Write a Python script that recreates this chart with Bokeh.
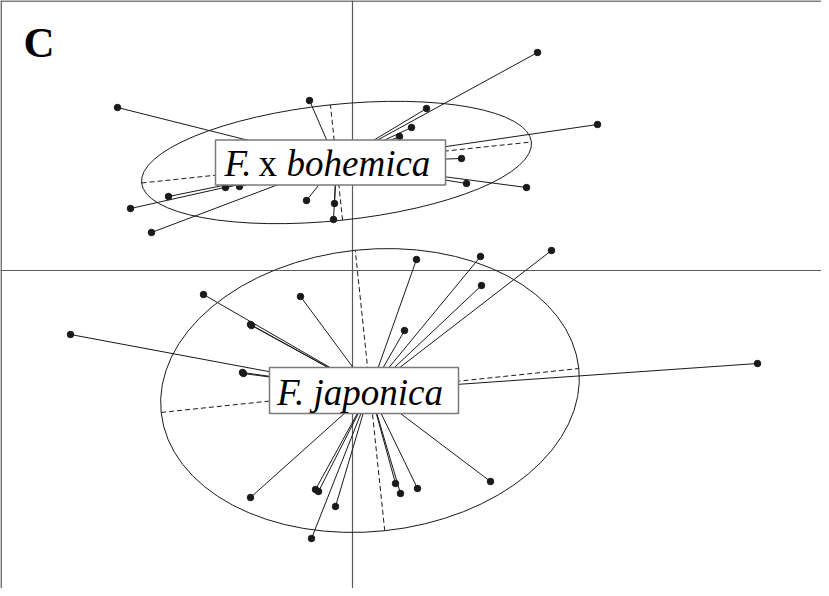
import math
from bokeh.plotting import figure
from bokeh.models import Range1d, Span
from bokeh.core.properties import value
from bokeh.embed import file_html
from bokeh.resources import INLINE

# ---- data (score units) ----
class_names = ["F. x bohemica", "F. japonica"]
center_x = [-0.16, 0.175]
center_y = [1.08, -1.20]
ell_a = [1.96, 2.10]          # semi-major axis
ell_b = [0.58, 1.41]          # semi-minor axis
ell_angle_deg = [6.0, 6.0]

bohemica_x = [-2.35, -0.43, 1.85, 2.45, 0.74, 0.59, 0.47, 1.09, 1.14, 1.74,
              -1.84, -2.22, -2.01, -0.46, -0.18, -0.19, -1.27, -1.13]
bohemica_y = [1.63, 1.70, 2.18, 1.46, 1.62, 1.43, 1.34, 1.12, 0.87, 0.83,
              0.74, 0.62, 0.38, 0.70, 0.67, 0.51, 0.83, 0.84]

japonica_x = [-2.82, -1.49, -0.52, -1.02, -1.01, -1.10, -1.09, 0.52, 0.64, 1.28,
              1.99, 1.29, 4.05, -1.02, -0.37, -0.34, -0.17, -0.41, 0.43, 0.48,
              0.65, 1.38]
japonica_y = [-0.64, -0.24, -0.26, -0.54, -0.55, -1.02, -1.03, -0.60, 0.11, 0.14,
              0.20, -0.15, -0.93, -2.27, -2.19, -2.21, -2.36, -2.68, -2.13, -2.23,
              -2.18, -2.11]

panel_letter = "C"

# ---- figure ----
X0, X1 = -3.52, 4.69
Y0, Y1 = -3.18, 2.70
W, H = 821, 588
ppu = W / (X1 - X0)

p = figure(width=W, height=H, x_range=Range1d(X0, X1), y_range=Range1d(Y0, Y1),
           output_backend="svg", toolbar_location=None, min_border=0)
p.axis.visible = False
p.grid.visible = False
p.outline_line_color = None
p.background_fill_color = "white"
p.border_fill_color = "white"

frame_col = "#555555"
# frame (left and top borders visible in the reference)
p.add_layout(Span(location=X0 + 0.6 / ppu, dimension="height", line_color=frame_col,
                  line_width=1.5, level="underlay"))
p.add_layout(Span(location=Y1 - 0.6 / ppu, dimension="width", line_color=frame_col,
                  line_width=1.5, level="underlay"))
# origin axes
p.add_layout(Span(location=0, dimension="height", line_color="#5a5a5a",
                  line_width=1.2, level="underlay"))
p.add_layout(Span(location=0, dimension="width", line_color="#5a5a5a",
                  line_width=1.2, level="underlay"))

ink = "#1a1a1a"
groups = [(bohemica_x, bohemica_y), (japonica_x, japonica_y)]

for k, (gx, gy) in enumerate(groups):
    cx, cy = center_x[k], center_y[k]
    a, b = ell_a[k], ell_b[k]
    t = math.radians(ell_angle_deg[k])
    # ellipse axes (dashed)
    p.segment(x0=[cx - a * math.cos(t), cx + b * math.sin(t)],
              y0=[cy - a * math.sin(t), cy - b * math.cos(t)],
              x1=[cx + a * math.cos(t), cx - b * math.sin(t)],
              y1=[cy + a * math.sin(t), cy + b * math.cos(t)],
              line_color=ink, line_width=1, line_dash="5 3")
    # ellipse
    p.ellipse(x=[cx], y=[cy], width=[2 * a], height=[2 * b], angle=[t],
              fill_color=None, line_color=ink, line_width=1)
    # star
    p.segment(x0=[cx] * len(gx), y0=[cy] * len(gy), x1=gx, y1=gy,
              line_color=ink, line_width=1)
    p.scatter(gx, gy, size=6.5, fill_color=ink, line_color=ink)

# label boxes
box_w = [230, 189]
box_h = [45, 46]
dx = -6 / ppu
for k in range(2):
    p.rect(x=[center_x[k] + dx], y=[center_y[k]], width=[box_w[k]], height=[box_h[k]],
           width_units="screen", height_units="screen",
           fill_color="white", line_color="#7a7a7a", line_width=1.5)

font = value("Liberation Serif")
fs = "37px"
# F. x bohemica (mixed italic / upright)
parts = [("F.", "italic", -112), ("x", "normal", -78), ("bohemica", "italic", -50)]
for txt, style, off in parts:
    p.text(x=[center_x[0]], y=[center_y[0]], text=[txt], text_font=font,
           text_font_size=fs, text_font_style=style, text_color="black",
           text_align="left", text_baseline="middle", x_offset=off, y_offset=1)
# F. japonica
p.text(x=[center_x[1]], y=[center_y[1]], text=[class_names[1]], text_font=font,
       text_font_size=fs, text_font_style="italic", text_color="black",
       text_align="center", text_baseline="middle", x_offset=-10, y_offset=2)

# panel letter
p.text(x=[X0], y=[Y1], text=[panel_letter], text_font=font, text_font_size="43px",
       text_font_style="bold", text_color="black", text_align="left",
       text_baseline="middle", x_offset=23, y_offset=42)

open("out.html", "w").write(file_html(p, INLINE))
